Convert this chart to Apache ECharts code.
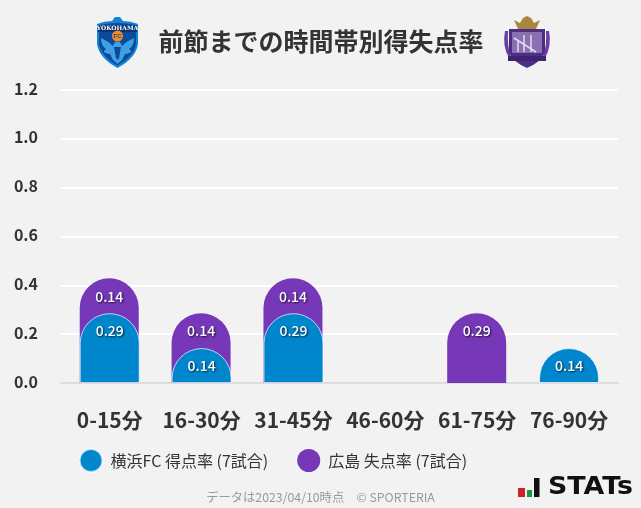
<!DOCTYPE html>
<html><head><meta charset="utf-8">
<style>html,body{margin:0;padding:0;background:#f2f2f2}#c{width:641px;height:508px}</style>
<script src="https://cdn.jsdelivr.net/npm/echarts@6/dist/echarts.min.js"></script>
</head><body><div id="c"></div>
<script>
const categories = ['0-15分','16-30分','31-45分','46-60分','61-75分','76-90分'];
const yokohamaScored = [0.286,0.143,0.286,0,0,0.143];
const hiroshimaConceded = [0.143,0.143,0.143,0,0.286,0];
const yTicks = {min:0,max:1.2,interval:0.2};
const nameA = '横浜FC 得点率 (7試合)';
const nameB = '広島 失点率 (7試合)';
const titleText = '前節までの時間帯別得失点率';
const noteText = 'データは2023/04/10時点　© SPORTERIA';
const BLUE='#0086cc', PURPLE='#7638b8';
const FONT='"Noto Sans CJK JP","Noto Sans",sans-serif';

const chart = echarts.init(document.getElementById('c'),null,{renderer:'canvas'});
// the rear bar reaches the stacked total so it shows behind the front bar's rounded corners
const rear = hiroshimaConceded.map((v,i)=> v>0 ? +(v+yokohamaScored[i]).toFixed(3) : null);
const front = yokohamaScored.map(v=> v>0 ? v : null);
const labelStyle = {show:true,position:'insideTop',distance:11,color:'#fff',fontFamily:FONT,fontSize:14,fontWeight:500,
  textShadowColor:'rgba(0,0,0,.75)',textShadowBlur:2,textShadowOffsetX:1,textShadowOffsetY:1};

const g=[];
let shapeNo=0;
function deco(d,style){
  const n='deco'+(shapeNo++);
  echarts.graphic.registerShape(n,echarts.graphic.extendPath(d));
  g.push({type:n,style:style});
}
// Yokohama FC emblem
deco('M97 24 Q104 21 112 21 L115 17 L120 17 L123 21 Q131 21 138 24 L138 44 Q136 58 117.5 68 Q99 58 97 44 Z',{fill:'#1384d4'});
deco('M99 25 Q108 23 117.5 23 Q127 23 136 25 L136 44 Q134 56 117.5 65.5 Q101 56 99 44 Z',{fill:'#0c4a9c'});
deco('M98 25 L137 25 L137 32 L98 32 Z',{fill:'#0a3474'});
g.push({type:'text',style:{text:'YOKOHAMA',x:117.5,y:28.5,align:'center',verticalAlign:'middle',fill:'#fff',font:'bold 6px "DejaVu Serif"'}});
deco('M101 38 Q108 41 113 46 L115 42 L120 42 L122 46 Q127 41 134 38 Q134 46 129 49 Q131 50 131 52 Q128 54 125 54 L122 60 L117.5 64 L113 60 L110 54 Q107 54 104 52 Q104 50 106 49 Q101 46 101 38 Z',{fill:'#3fa0e4'});
deco('M114 47 L121 47 L119 58 L117.5 60 L116 58 Z',{fill:'#0c4a9c'});
g.push({type:'circle',shape:{cx:117.5,cy:36,r:5.5},style:{fill:'#f28a1e'}});
g.push({type:'text',style:{text:'FC',x:117.5,y:36,align:'center',verticalAlign:'middle',fill:'#0b4f9e',font:'bold 6px "Liberation Sans"'}});
// Hiroshima emblem
deco('M505 31 Q502 46 509 58 L511 58 Q507 46 508 31 Z M549 31 Q552 46 545 58 L543 58 Q547 46 546 31 Z',{fill:'#6a3fa0'});
deco('M518 29 L514 20 L520 23 L523 18 L527 16 L531 18 L534 23 L540 20 L536 29 Z',{fill:'#a8883c'});
deco('M509 29 L545 29 L545 53 Q541 62 527 68 Q513 62 509 53 Z',{fill:'#4f2d86'});
deco('M512 32 L542 32 L542 53 L512 53 Z',{fill:'#8a70b2'});
deco('M514 38 L536 52 M524 35 L524 52 M531 35 L531 52 M518 40 L518 52',{fill:'none',stroke:'#e2dbec',lineWidth:1.5});
deco('M508 56 L546 56 L546 61 L508 61 Z',{fill:'#3d2470'});
// STATs logo
g.push({type:'rect',shape:{x:518,y:488,width:7,height:9},style:{fill:'#d01f26'}});
g.push({type:'rect',shape:{x:527,y:490,width:5,height:7},style:{fill:'#159a4a'}});
g.push({type:'rect',shape:{x:534,y:478,width:5.5,height:19},style:{fill:'#111'}});
g.push({type:'text',x:548,y:488,scaleX:1.12,style:{text:'STATs',x:0,y:0,verticalAlign:'middle',fill:'#111',font:'bold 24px "DejaVu Sans"'}});
// footnote
g.push({type:'text',style:{text:noteText,x:320.5,y:497,align:'center',verticalAlign:'middle',fill:'#999',font:'12.3px '+FONT}});

chart.setOption({
  backgroundColor:'#f2f2f2',
  animation:false,
  title:{text:titleText,left:316,top:24,textAlign:'center',textStyle:{fontFamily:FONT,fontSize:25,fontWeight:'bold',color:'#333'}},
  // wide grid carries the rules, the baseline and the value labels; the inner grid carries the bars
  grid:[{left:61,right:23,top:90,bottom:125},{left:63.8,right:26,top:90,bottom:125}],
  legend:{left:73.5,top:443,icon:'circle',itemWidth:25,itemHeight:23,itemGap:29,
    data:[nameA,nameB],selectedMode:false,
    textStyle:{fontFamily:FONT,fontSize:16,color:'#333',padding:[0,0,0,2]}},
  xAxis:[
    {gridIndex:0,type:'category',data:[''],axisTick:{show:false},axisLabel:{show:false},axisLine:{lineStyle:{color:'#ddd',width:2}}},
    {gridIndex:1,type:'category',data:categories,axisTick:{show:false},axisLine:{show:false},
      axisLabel:{margin:27,color:'#333',fontFamily:FONT,fontSize:21,fontWeight:'bold',interval:0}}
  ],
  yAxis:[
    {gridIndex:0,type:'value',min:yTicks.min,max:yTicks.max,interval:yTicks.interval,
      axisLine:{show:false},axisTick:{show:false},
      splitLine:{lineStyle:{color:'#fff',width:2}},
      axisLabel:{margin:23,formatter:v=>'{a|'+v.toFixed(1)+'}',
        rich:{a:{color:'#333',fontFamily:FONT,fontSize:16,fontWeight:'bold',padding:[0,0,3,0]}}}},
    {gridIndex:1,type:'value',min:yTicks.min,max:yTicks.max,interval:yTicks.interval,show:false,splitLine:{show:false}}
  ],
  series:[
    {name:nameB,type:'bar',xAxisIndex:1,yAxisIndex:1,data:rear,barWidth:59,barGap:'-100%',
      itemStyle:{color:PURPLE,borderRadius:[30,30,0,0]},
      label:Object.assign({},labelStyle,{formatter:p=>hiroshimaConceded[p.dataIndex].toFixed(2)})},
    {name:nameA,type:'bar',xAxisIndex:1,yAxisIndex:1,data:front,barWidth:60,barGap:'-100%',
      itemStyle:{color:BLUE,borderRadius:[30,30,0,0],borderColor:'rgba(255,255,255,.7)',borderWidth:1},
      label:Object.assign({},labelStyle,{formatter:p=>yokohamaScored[p.dataIndex].toFixed(2)})}
  ],
  graphic:{elements:g}
});
</script></body></html>
